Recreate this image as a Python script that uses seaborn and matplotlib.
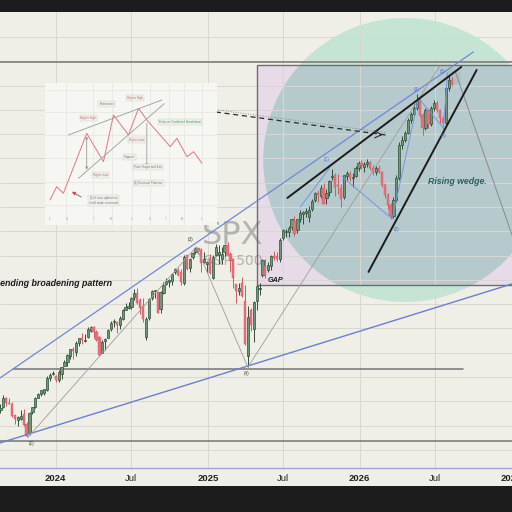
import matplotlib
matplotlib.use("Agg")
import matplotlib.pyplot as plt
import matplotlib.dates as mdates
from matplotlib.patches import Rectangle, Ellipse
import numpy as np
import pandas as pd
import seaborn as sns

# ---------------- data (weekly candles, SPX) ----------------
WEEK_START = "2023-08-21"
OPEN = [4390, 4415, 4510, 4460, 4453, 4330, 4284, 4290, 4342, 4239,
        4140, 4364, 4419, 4511, 4555, 4569, 4594, 4725, 4759, 4745,
        4703, 4766, 4853, 4892, 4950, 5026, 4998, 5094, 5131, 5111,
        5154, 5219, 5258, 5200, 5149, 4988, 5114, 5142, 5233, 5305,
        5315, 5283, 5341, 5431, 5460, 5471, 5572, 5616, 5544, 5477,
        5151, 5350, 5558, 5637, 5623, 5442, 5615, 5712, 5727, 5737,
        5832, 5858, 5833, 5723, 6009, 5877, 5992, 6040, 6083, 6063,
        5942, 5921, 5982, 5771, 6014, 6013, 5969, 6046, 6118, 6026,
        5968, 5705, 5635, 5718, 5527, 4953, 5441, 5232, 5529, 5655,
        5808, 5903, 5855, 5896, 6004, 6004, 5970, 6193, 6255, 6255,
        6305, 6375, 6271, 6389, 6445, 6457, 6410, 6500, 6590, 6660,
        6630, 6720, 6610, 6680, 6830, 6850, 6740, 6720, 6620, 6840,
        6860, 6820, 6840, 6930, 6980, 6940, 6970, 6990, 6930, 6885,
        6930, 6890, 6750, 6640, 6540, 6420, 6590, 6820, 7170, 7220,
        7295, 7430, 7495, 7558, 7640, 7480, 7350, 7535, 7390, 7555,
        7610, 7537, 7450, 7400, 7770, 7850]
HIGH = [4450, 4541, 4520, 4511, 4465, 4338, 4320, 4386, 4393, 4256,
        4366, 4416, 4521, 4568, 4595, 4609, 4738, 4778, 4793, 4754,
        4802, 4842, 4907, 4975, 5030, 5048, 5111, 5140, 5190, 5180,
        5262, 5265, 5264, 5227, 5168, 5123, 5146, 5239, 5325, 5342,
        5315, 5375, 5447, 5505, 5524, 5570, 5655, 5669, 5566, 5566,
        5364, 5563, 5643, 5651, 5627, 5636, 5734, 5767, 5757, 5822,
        5879, 5878, 5865, 6012, 6018, 5978, 6044, 6099, 6085, 6085,
        6050, 5954, 6022, 6014, 6128, 6120, 6101, 6127, 6147, 6044,
        5987, 5710, 5715, 5787, 5695, 5482, 5459, 5528, 5700, 5720,
        5969, 5969, 5944, 6017, 6059, 6050, 6187, 6284, 6291, 6315,
        6395, 6427, 6395, 6481, 6480, 6509, 6532, 6600, 6672, 6700,
        6750, 6765, 6710, 6800, 6920, 6870, 6860, 6760, 6855, 6895,
        6900, 6870, 6945, 7000, 7010, 6990, 7020, 7000, 6960, 6950,
        6960, 6900, 6770, 6660, 6560, 6620, 6850, 7200, 7260, 7320,
        7450, 7520, 7600, 7700, 7660, 7500, 7560, 7550, 7580, 7640,
        7630, 7550, 7470, 7800, 7900, 7880]
LOW = [4356, 4403, 4432, 4446, 4316, 4238, 4217, 4280, 4223, 4103,
       4126, 4344, 4407, 4510, 4537, 4547, 4587, 4695, 4751, 4682,
       4682, 4714, 4845, 4845, 4919, 4921, 4953, 5057, 5074, 5104,
       5139, 5203, 5146, 5107, 4953, 4980, 5011, 5142, 5211, 5257,
       5191, 5234, 5331, 5431, 5447, 5445, 5546, 5497, 5390, 5306,
       5120, 5330, 5539, 5561, 5402, 5406, 5603, 5698, 5674, 5695,
       5813, 5796, 5703, 5697, 5853, 5830, 5972, 6028, 6025, 5832,
       5932, 5829, 5809, 5765, 6001, 5924, 5923, 6003, 6009, 5837,
       5666, 5505, 5597, 5572, 5069, 4835, 5220, 5101, 5433, 5596,
       5786, 5768, 5839, 5861, 5963, 5952, 5944, 6174, 6201, 6202,
       6281, 6212, 6240, 6358, 6343, 6412, 6360, 6480, 6565, 6570,
       6610, 6550, 6550, 6630, 6800, 6630, 6650, 6520, 6600, 6800,
       6790, 6730, 6830, 6900, 6920, 6880, 6940, 6910, 6850, 6850,
       6870, 6730, 6610, 6500, 6392, 6400, 6570, 6800, 7130, 7200,
       7280, 7400, 7470, 7540, 7460, 7274, 7330, 7350, 7370, 7530,
       7510, 7400, 7340, 7380, 7740, 7790]
CLOSE = [4406, 4516, 4457, 4450, 4320, 4288, 4309, 4327, 4224, 4117,
         4358, 4415, 4514, 4559, 4595, 4604, 4719, 4754, 4770, 4697,
         4784, 4840, 4891, 4959, 5027, 5006, 5089, 5137, 5124, 5117,
         5234, 5254, 5204, 5123, 4967, 5100, 5128, 5223, 5303, 5305,
         5278, 5347, 5432, 5465, 5460, 5567, 5615, 5505, 5459, 5346,
         5344, 5554, 5634, 5648, 5408, 5626, 5702, 5738, 5751, 5815,
         5864, 5808, 5729, 5995, 5870, 5969, 6032, 6090, 6051, 5930,
         5971, 5942, 5827, 5997, 6101, 6041, 6026, 6115, 6013, 5955,
         5770, 5639, 5668, 5581, 5074, 5363, 5283, 5525, 5687, 5660,
         5958, 5803, 5912, 6000, 5977, 5968, 6173, 6279, 6260, 6297,
         6389, 6238, 6389, 6450, 6467, 6460, 6482, 6584, 6664, 6644,
         6716, 6553, 6664, 6792, 6840, 6729, 6734, 6603, 6849, 6870,
         6827, 6834, 6930, 6980, 6949, 6970, 6990, 6928, 6886, 6928,
         6886, 6749, 6644, 6539, 6424, 6591, 6822, 7169, 7222, 7295,
         7432, 7495, 7558, 7642, 7484, 7348, 7536, 7390, 7558, 7610,
         7537, 7453, 7400, 7768, 7852, 7810]

X_TICKS = ["2024-01-01", "2024-07-01", "2025-01-01", "2025-07-01",
           "2026-01-01", "2026-07-01", "2027-01-01"]
X_TICK_LABELS = ["2024", "Jul", "2025", "Jul", "2026", "Jul", "2027"]
Y_GRID = [8303, 8048, 7793, 7538, 7283, 7028, 6773, 6518, 6263, 6008,
          5753, 5498, 5243, 4988, 4733, 4478, 4223, 3968]

# chart drawings: (dates, prices)
UPPER_CHANNEL = (["2023-08-20", "2026-10-01"], [4722, 8145])
LOWER_CHANNEL = (["2023-08-20", "2027-01-02"], [4040, 5710])
LEGS_GRAY = (["2023-10-27", "2024-12-04", "2025-04-07", "2026-07-14"],
             [4103, 6099, 4835, 8009])
PROJECTION = (["2026-08-19", "2027-01-02"], [7936, 6224])
WAVE_A = (["2025-08-11", "2025-10-22"], [6518, 6938])
WAVE_B = (["2025-11-20", "2026-03-20", "2026-05-22", "2026-07-21", "2026-07-31"],
          [6833, 6392, 7663, 7348, 7925])
WEDGE_UPPER = (["2025-07-11", "2026-09-02"], [6613, 7988])
WEDGE_LOWER = (["2026-01-22", "2026-10-09"], [5836, 7956])
DASHED_ARROW = (["2025-01-20", "2026-03-04"], [7515, 7274])
TOP_LINE = 8040
SUPPORT_4 = (["2023-09-21", "2026-09-07"], 4817)
SUPPORT_2 = 4061
BOX = (["2025-04-30", "2027-06-01"], [5699, 8009])
CIRCLE = ("2026-04-20", 7011, 682, 2982)   # centre date, centre price, width (days), height
SMALL_CIRCLE = ("2026-08-14", 7883, 38, 170)

# inset (pattern diagram) in its own units
INSET_ZIG_X = [30, 50, 70, 140, 190, 220, 265, 295, 320, 390, 410, 440, 460, 485]
INSET_ZIG_Y = [375, 335, 355, 175, 260, 120, 180, 100, 135, 215, 190, 245, 230, 265]
INSET_RES = ([85, 365], [180, 75])
INSET_SUP = ([115, 372], [310, 86])
INSET_LABELS = [
    (145, 128, "Higher High", "#d0606a"),
    (200, 88, "Resistance", "#777777"),
    (285, 68, "Higher High", "#d0606a"),
    (290, 195, "Higher Low", "#d0606a"),
    (268, 247, "Support", "#777777"),
    (180, 300, "Higher Low", "#d0606a"),
    (418, 140, "Entry on Confirmed Breakdown", "#4f9a5a"),
    (323, 275, "Price Target and Exit", "#777777"),
    (325, 325, "[1] Reversal Patterns", "#777777"),
    (190, 377, "(1) It runs upfront so\nit will make a reversal", "#777777"),
]
INSET_TICK_X = [30, 80, 160, 215, 275, 330, 375, 425, 485]
INSET_TICK_LBL = ["1", "4", "7", "10", "1", "4", "7", "10", "1"]

# ---------------- style ----------------
sns.set_theme(style="white")
plt.rcParams['font.family'] = ['Liberation Sans', 'DejaVu Sans']

BG = "#efeee7"
GREEN_FACE, GREEN_EDGE = "#6f9878", "#2f4f37"
RED_FACE, RED_EDGE = "#e96f7b", "#cf5a66"

fig = plt.figure(figsize=(5.12, 5.12), dpi=100)
fig.patch.set_facecolor("#1c1c1c")
fig.add_artist(Rectangle((0, 26 / 512), 1, 474 / 512, transform=fig.transFigure,
                         facecolor=BG, edgecolor="none", zorder=0))
ax = fig.add_axes([0, 44 / 512, 1, 456 / 512])
ax.set_facecolor(BG)


def D(s):
    return mdates.date2num(pd.Timestamp(s))


def Ds(lst):
    return [D(s) for s in lst]


def AX(x, y):  # pixel -> axes fraction (for text placement)
    return x / 512, (468 - y) / 456


# shaded box and circle
bx = Ds(BOX[0])
rect = Rectangle((bx[0], BOX[1][0]), bx[1] - bx[0], BOX[1][1] - BOX[1][0],
                 facecolor="#e7dbe7", edgecolor="none", zorder=0.1)
ax.add_patch(rect)
circ = Ellipse((D(CIRCLE[0]), CIRCLE[1]), CIRCLE[2], CIRCLE[3],
               facecolor="#c6e4d4", edgecolor="none", zorder=0.15)
ax.add_patch(circ)
circ2 = Ellipse((D(CIRCLE[0]), CIRCLE[1]), CIRCLE[2], CIRCLE[3],
                facecolor="#b6c9cc", edgecolor="none", zorder=0.2)
ax.add_patch(circ2)
circ2.set_clip_path(rect)
ax.add_patch(Rectangle((bx[0], BOX[1][0]), bx[1] - bx[0], BOX[1][1] - BOX[1][0],
                       facecolor="none", edgecolor="#6e6e6e", lw=1.0, zorder=2))
ax.add_patch(Ellipse((D(SMALL_CIRCLE[0]), SMALL_CIRCLE[1]), SMALL_CIRCLE[2], SMALL_CIRCLE[3],
                     facecolor="#a9bfbf", edgecolor="none", alpha=0.8, zorder=2.5))

# watermark
ax.text(*AX(233, 236), "SPX", transform=ax.transAxes, ha="center", va="center",
        fontsize=23, color="#8c8c8c", alpha=0.6, zorder=1, family="DejaVu Sans")
ax.text(*AX(233, 261), "S&P 500", transform=ax.transAxes, ha="center", va="center",
        fontsize=10, color="#8c8c8c", alpha=0.6, zorder=1, family="DejaVu Sans")

# horizontal levels
ax.axhline(TOP_LINE, color="#747474", lw=1.1, zorder=2)
ax.axhline(SUPPORT_2, color="#747474", lw=1.1, zorder=2)
s4 = Ds(SUPPORT_4[0])
ax.plot(s4, [SUPPORT_4[1]] * 2, color="#747474", lw=1.1, zorder=2)

# candles
dates = pd.date_range(WEEK_START, periods=len(CLOSE), freq="7D")
xd = mdates.date2num(dates)
o, h, l, c = map(np.array, (OPEN, HIGH, LOW, CLOSE))
up = c >= o
ax.vlines(xd[up], l[up], h[up], colors=GREEN_EDGE, lw=0.7, zorder=3)
ax.vlines(xd[~up], l[~up], h[~up], colors=RED_EDGE, lw=0.7, zorder=3)
body = np.maximum(np.abs(c - o), 14)
bottom = np.minimum(o, c)
ax.bar(xd[up], body[up], bottom=bottom[up], width=5.4, color=GREEN_FACE,
       edgecolor=GREEN_EDGE, lw=0.5, zorder=4)
ax.bar(xd[~up], body[~up], bottom=bottom[~up], width=5.4, color=RED_FACE,
       edgecolor=RED_EDGE, lw=0.3, zorder=4)

# trend lines
sns.lineplot(x=Ds(UPPER_CHANNEL[0]), y=UPPER_CHANNEL[1], ax=ax, color="#7287d8", lw=0.9, zorder=5)
sns.lineplot(x=Ds(LOWER_CHANNEL[0]), y=LOWER_CHANNEL[1], ax=ax, color="#6a7fd0", lw=1.0, zorder=5)
ax.plot(Ds(LEGS_GRAY[0]), LEGS_GRAY[1], color="#9c9c9c", lw=0.6, zorder=5)
ax.plot(Ds(PROJECTION[0]), PROJECTION[1], color="#8a8a8a", lw=0.7, zorder=5)
ax.plot(Ds(WAVE_A[0]), WAVE_A[1], color="#7b93e0", lw=0.7, zorder=5)
sns.lineplot(x=Ds(WAVE_B[0]), y=WAVE_B[1], ax=ax, sort=False, estimator=None,
             color="#7b93e0", lw=0.7, zorder=5)
ax.plot(Ds(WEDGE_UPPER[0]), WEDGE_UPPER[1], color="#1c1c1c", lw=1.4, zorder=6)
ax.plot(Ds(WEDGE_LOWER[0]), WEDGE_LOWER[1], color="#1c1c1c", lw=1.4, zorder=6)
da = Ds(DASHED_ARROW[0])
ax.plot(da, DASHED_ARROW[1], color="#2a2a2a", lw=0.9, ls=(0, (4, 3)), zorder=6)
ax.plot(da, [p + 25 for p in DASHED_ARROW[1]], color="#777777", lw=0.6, ls=(0, (1, 2)), zorder=6)
ax.annotate("", xy=(da[1], DASHED_ARROW[1][1]),
            xytext=(da[1] - 20, DASHED_ARROW[1][1] + 4),
            arrowprops=dict(arrowstyle="->", color="#2a2a2a", lw=0.8), zorder=6)

# texts
ax.text(*AX(112, 283), "Ascending broadening pattern", transform=ax.transAxes,
        ha="right", va="center", fontsize=6.4, fontweight="bold", fontstyle="italic",
        color="#1a1a1a", zorder=7)
ax.text(*AX(457, 182), "Rising wedge.", transform=ax.transAxes, ha="center", va="center",
        fontsize=6.3, fontweight="bold", fontstyle="italic", color="#2e5e5e", zorder=7)
ax.text(*AX(276, 280), "GAP", transform=ax.transAxes, ha="center", va="center",
        fontsize=5.2, fontweight="bold", fontstyle="italic", color="#1a1a1a", zorder=7)
for (px_, py_, t) in [(32, 443, "(2)"), (191, 240, "(3)"), (247, 373, "(4)")]:
    ax.text(*AX(px_, py_), t, transform=ax.transAxes, ha="center", va="center",
            fontsize=3.4, color="#444444", zorder=7)
for (px_, py_, t) in [(327, 160, "(1)"), (397, 229, "(2)"), (417, 89, "(3)"),
                      (444, 135, "(4)"), (443, 71, "(5)")]:
    ax.text(*AX(px_, py_), t, transform=ax.transAxes, ha="center", va="center",
            fontsize=3.4, color="#4f6fd0", zorder=7)

# axes
ax.set_xlim(D("2023-08-20"), D("2027-01-02"))
ax.set_ylim(3777, 8565)
ax.set_yticks(Y_GRID)
ax.set_yticklabels([])
ax.set_xticks(Ds(X_TICKS))
ax.set_xticklabels(X_TICK_LABELS)
for lbl, txt in zip(ax.get_xticklabels(), X_TICK_LABELS):
    lbl.set_fontweight("bold" if txt.isdigit() else "normal")
ax.tick_params(axis="x", length=0, pad=4, labelsize=6.8, labelcolor="#222222")
ax.tick_params(axis="y", length=0)
ax.set_axisbelow(True)
ax.grid(True, color="#d9d8d0", lw=0.7)
for s in ["top", "left", "right"]:
    ax.spines[s].set_visible(False)
ax.spines["bottom"].set_color("#9aa6d6")
ax.spines["bottom"].set_linewidth(1.0)

# inset diagram
ins = fig.add_axes([45 / 512, 1 - 225 / 512, 172 / 512, 142 / 512])
ins.set_facecolor("#f7f7f3")
ins.patch.set_alpha(0.95)
ins.set_xlim(15, 530)
ins.set_ylim(450, 24)
for s in ins.spines.values():
    s.set_visible(False)
ins.set_xticks([78, 160, 215, 275, 330, 385, 430, 485])
ins.set_yticks([45, 110, 180, 250, 320, 390])
ins.set_xticklabels([])
ins.set_yticklabels([])
ins.tick_params(length=0)
ins.grid(True, color="#e6e6e0", lw=0.5)
sns.lineplot(x=INSET_ZIG_X, y=INSET_ZIG_Y, ax=ins, sort=False, estimator=None,
             color="#e07a82", lw=0.7)
ins.plot(*INSET_RES, color="#9a9a9a", lw=0.6)
ins.plot(*INSET_SUP, color="#9a9a9a", lw=0.6)
ins.annotate("", xy=(140, 292), xytext=(140, 176),
             arrowprops=dict(arrowstyle="<->", color="#8a8a8a", lw=0.5, mutation_scale=4))
ins.annotate("", xy=(320, 282), xytext=(320, 136),
             arrowprops=dict(arrowstyle="->", color="#8a8a8a", lw=0.5, mutation_scale=4))
ins.annotate("", xy=(88, 346), xytext=(130, 370),
             arrowprops=dict(arrowstyle="-|>", color="#c05060", lw=0.7, mutation_scale=5))
for (zx, zy, t, col) in INSET_LABELS:
    ins.text(zx, zy, t, ha="center", va="center", fontsize=2.2, color=col,
             bbox=dict(boxstyle="square,pad=0.3", fc="#f0f0ea", ec="#cfcfc8", lw=0.3))
for zx, t in zip(INSET_TICK_X, INSET_TICK_LBL):
    ins.text(zx, 432, t, ha="center", va="center", fontsize=2.2, color="#999999")

fig.savefig("out.png", dpi=100, facecolor=fig.get_facecolor())
